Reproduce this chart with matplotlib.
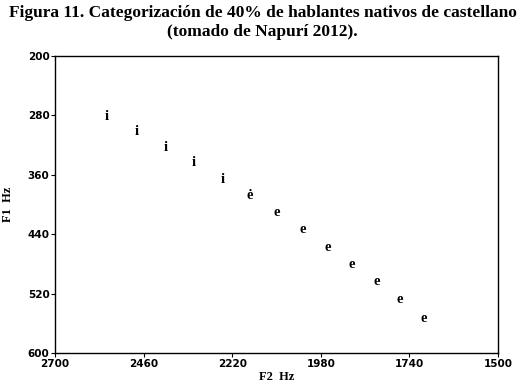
import matplotlib
matplotlib.use("Agg")
import matplotlib.pyplot as plt

# Data
labels = ["i", "i", "i", "i", "i", "ė", "e", "e", "e", "e", "e", "e", "e"]
f2_hz = [2560, 2479, 2400, 2323, 2247, 2172, 2099, 2029, 1962, 1895, 1829, 1765, 1702]
f1_hz = [281, 302, 323, 344, 366, 388, 411, 434, 458, 481, 504, 528, 553]

x_ticks = [2700, 2460, 2220, 1980, 1740, 1500]
y_ticks = [200, 280, 360, 440, 520, 600]

title = "Figura 11. Categorización de 40% de hablantes nativos de castellano\n(tomado de Napurí 2012)."

fig = plt.figure(figsize=(5.25, 3.87), dpi=100)
ax = fig.add_axes([0.1048, 0.0879, 0.8438, 0.7674])

for lab, x, y in zip(labels, f2_hz, f1_hz):
    ax.text(x, y, lab, ha="center", va="center", fontsize=10.5,
            fontweight="bold", family="Liberation Serif", color="black")

ax.set_xlim(2700, 1500)
ax.set_ylim(600, 200)
ax.set_xticks(x_ticks)
ax.set_yticks(y_ticks)
ax.set_xticklabels([str(v) for v in x_ticks])
ax.set_yticklabels([str(v) for v in y_ticks])
ax.tick_params(axis="both", direction="out", length=3, width=0.8, labelsize=7.5, pad=1)
for lab in ax.get_xticklabels() + ax.get_yticklabels():
    lab.set_fontweight("bold")
    lab.set_family("DejaVu Sans")
ax.tick_params(top=False, right=False)
for s in ax.spines.values():
    s.set_linewidth(1.0)
    s.set_color("black")

ax.set_xlabel("F2  Hz", fontsize=9, fontweight="bold", family="Liberation Serif", labelpad=2)
ax.set_ylabel("F1  Hz", fontsize=9, fontweight="bold", family="Liberation Serif", labelpad=10)

fig.text(0.5, 0.988, title, ha="center", va="top", fontsize=12.5, fontweight="bold",
         family="Liberation Serif", linespacing=1.3)

fig.savefig("out.png", dpi=100)
